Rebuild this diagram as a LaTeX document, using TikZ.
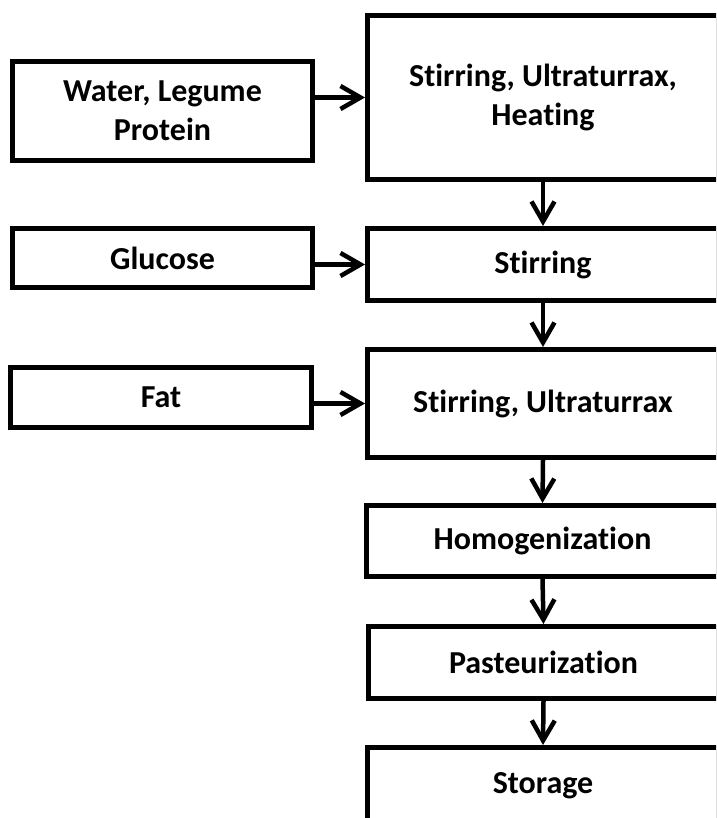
\documentclass[tikz,border=0pt]{standalone}
\usepackage{fontspec}
\setmainfont{Carlito}[Ligatures=NoCommon]
\usetikzlibrary{arrows.meta}

\tikzset{
  box/.style={draw=black, line width=5pt, rectangle, align=center,
    inner sep=0pt, font=\bfseries\fontsize{32}{39}\selectfont},
  flow/.style={line width=4.5pt,
    -{Straight Barb[length=20pt, width=23pt, line width=4.5pt]}}
}

\begin{document}
\begin{tikzpicture}[x=1pt, y=-1pt]
  \useasboundingbox (0,0) rectangle (716,818);
  \clip (0,0) rectangle (716,818);
  \fill[white] (0,0) rectangle (716,818);

  % inputs on the left
  \node[box, minimum width=300pt, minimum height=99pt] (water) at (162.5,111) {Water, Legume\\Protein};
  \node[box, minimum width=300pt, minimum height=59pt] (glucose) at (162.5,258) {Glucose};
  \node[box, minimum width=301pt, minimum height=60pt] (fat) at (161,397.5) {Fat};

  % process steps on the right
  \node[box, minimum width=351pt, minimum height=164pt] (mix1) at (543,97.5) {Stirring, Ultraturrax,\\Heating};
  \node[box, minimum width=351pt, minimum height=72pt] (mix2) at (543,264.5) {Stirring};
  \node[box, minimum width=351pt, minimum height=108pt] (mix3) at (543,403.5) {Stirring, Ultraturrax};
  \node[box, minimum width=352pt, minimum height=71pt] (homog) at (542.5,541) {Homogenization};
  \node[box, minimum width=350pt, minimum height=72pt] (past) at (543.5,662.5) {Pasteurization};
  \node[box, minimum width=351pt, minimum height=76pt] (store) at (543,785.5) {Storage};

  % additions
  \draw[flow] (water.east |- mix1.west) -- (mix1.west);
  \draw[flow] (glucose.east |- mix2.west) -- (mix2.west);
  \draw[flow] (fat.east |- mix3.west) -- (mix3.west);

  % main line
  \draw[flow] (mix1.south) -- (mix2.north);
  \draw[flow] (mix2.south) -- (mix3.north);
  \draw[flow] (mix3.south) -- (homog.north);
  \draw[flow] (homog.south) -- (past.north);
  \draw[flow] (past.south) -- (store.north);
\end{tikzpicture}
\end{document}
